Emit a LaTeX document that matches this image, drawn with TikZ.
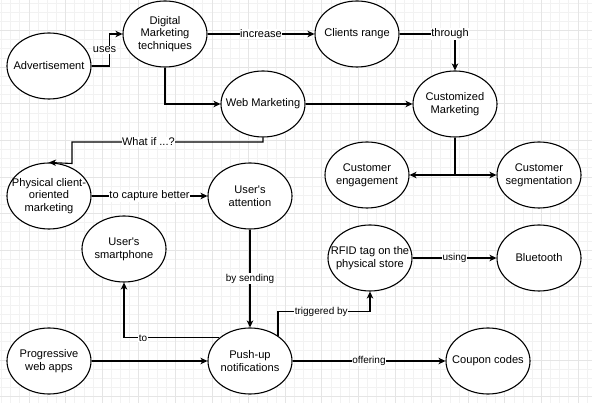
\documentclass[tikz,border=0pt]{standalone}
\usepackage{fontspec}
\setmainfont{Liberation Sans}[Ligatures=TeXOff]
\usetikzlibrary{shapes.geometric,arrows.meta,calc}
\newcommand\myell[3]{\node[ell] (#1) at (#2) {}; \node[etext] (#1-t) at (#1) {#3};}
\begin{document}
\begin{tikzpicture}[x=1pt,y=-1pt,
 ell/.style={draw=black, line width=1.1pt, fill=white, ellipse, minimum width=84pt, minimum height=66pt, inner sep=0pt},
 etext/.style={align=center, font=\fontsize{11.1}{12.7}\selectfont, inner sep=0pt, text=black},
 arr/.style={draw=black, line width=1.1pt, -{Stealth[length=7pt,width=6.5pt,inset=2pt]}},
 con/.style={draw=black, line width=1.1pt},
 lab/.style={fill=white, inner sep=0.6pt, font=\fontsize{11}{12}\selectfont},
 slab/.style={fill=white, inner sep=0.6pt, font=\fontsize{10}{11}\selectfont},
 minorgrid/.style={draw=black!5, line width=0.6pt},
 majorgrid/.style={draw=black!10, line width=0.6pt}]
\fill[white] (0,0) rectangle (592,403);
\useasboundingbox (0,0) rectangle (592,403);
% grid
\foreach \i in {0,...,64} {\draw[minorgrid] ({1.45+9.15*\i},0) -- ({1.45+9.15*\i},403);}
\foreach \j in {0,...,44} {\draw[minorgrid] (0,{3.05+9.15*\j}) -- (592,{3.05+9.15*\j});}
\foreach \i in {0,...,15} {\draw[majorgrid] ({28.9+36.6*\i},0) -- ({28.9+36.6*\i},403);}
\foreach \j in {0,...,10} {\draw[majorgrid] (0,{30.5+36.6*\j}) -- (592,{30.5+36.6*\j});}
% nodes
\myell{adv}{49,66}{Advertisement}
\myell{dmt}{165,34}{Digital\\Marketing\\techniques}
\myell{wm}{263,104}{Web Marketing}
\myell{cr}{357,34}{Clients range}
\myell{cm}{455,104}{Customized\\Marketing}
\myell{ce}{367,175}{Customer\\engagement}
\myell{cs}{539,175}{Customer\\segmentation}
\myell{pcm}{49,196}{Physical client-\\oriented\\marketing}
\myell{ua}{250,196}{User's\\attention}
\myell{us}{124,249}{User's\\smartphone}
\myell{pwa}{49,361}{Progressive\\web apps}
\myell{pu}{250,361}{Push-up\\notifications}
\myell{rfid}{370,258}{RFID tag on the\\physical store}
\myell{bt}{539,258}{Bluetooth}
\myell{cc}{488,361}{Coupon codes}
% connectors
\draw[arr] (adv.east) -- ++(18,0) |- node[lab,pos=0.25,xshift=-5pt]{uses} (dmt.west);
\draw[arr] (dmt.east) -- node[lab]{increase} (cr.west);
\draw[arr] (cr.east) -| node[lab,pos=0.455]{through} (cm.north);
\draw[arr] (dmt.south) |- (wm.west);
\draw[arr] (wm.east) -- (cm.west);
\draw[con] (cm.south) -- (cm.south |- ce.east) coordinate (split);
\draw[arr] (split) -- (ce.east);
\draw[arr] (split) -- (cs.west);
\coordinate (wq) at (72,142);
\coordinate (wq2) at (72,163.5);
\draw[arr] (wm.south) |- node[lab,pos=0.8]{What if ...?} (wq) -- (wq2) -- (pcm.north);
\draw[arr] (pcm.east) -- node[lab]{to capture better} (ua.west);
\draw[arr] (ua.south) -- node[slab]{by sending} (pu.north);
\draw[arr] (pu.143) -| node[slab,pos=0.4]{to} (us.south);
\draw[arr] (pwa.east) -- (pu.west);
\draw[arr] (pu.42) -- ++(0,-24) -| node[slab,pos=0.235]{triggered by} (rfid.south);
\draw[arr] (rfid.east) -- node[slab]{using} (bt.west);
\draw[arr] (pu.east) -- node[slab]{offering} (cc.west);
\end{tikzpicture}
\end{document}
